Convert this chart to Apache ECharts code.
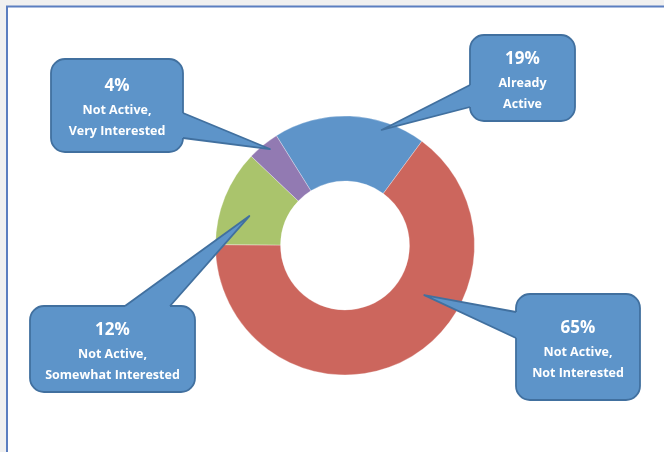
<!DOCTYPE html>
<html>
<head>
<meta charset="utf-8">
<script src="https://cdn.jsdelivr.net/npm/echarts@6/dist/echarts.min.js"></script>
<style>
  html, body { margin: 0; padding: 0; background: #f0f0f0; }
  #chart { width: 664px; height: 452px; }
</style>
</head>
<body>
<div id="chart"></div>
<script>
// Survey breakdown (share of respondents, %)
const categories = [
  'Already Active',
  'Not Active, Not Interested',
  'Not Active, Somewhat Interested',
  'Not Active, Very Interested'
];
const values = [19, 65, 12, 4];
const calloutLines = [
  ['Already', 'Active'],
  ['Not Active,', 'Not Interested'],
  ['Not Active,', 'Somewhat Interested'],
  ['Not Active,', 'Very Interested']
];

const sliceColors = ['#5E94C9', '#CC665D', '#AAC46C', '#927AB2'];

// Donut geometry
const CX = 345, CY = 245.5, R_IN = 64.5, R_OUT = 129.5, START = 122;

// Callout boxes: box rect, pointer base points on the box edge, and where
// the pointer lands inside its slice (fraction of the slice's sweep, fraction of outer radius)
const callouts = [
  { box: [470, 35, 105, 86], base: [[470, 85], [470, 107]], inward: [4, 0], at: [0.725, 0.936] },
  { box: [516, 294, 124, 106], base: [[516, 312], [516, 338]], inward: [4, 0], at: [0.366, 0.722] },
  { box: [30, 306, 165, 86], base: [[125, 306], [170, 306]], inward: [0, 4], at: [0.387, 0.773] },
  { box: [51, 59, 132, 93], base: [[183, 113], [183, 138]], inward: [-4, 0], at: [0.59, 0.944] }
];

const total = values.reduce((a, b) => a + b, 0);
const FONT = '"Open Sans", "Noto Sans", sans-serif';

const graphics = [
  // chart frame
  {
    type: 'rect', z: 0, silent: true,
    shape: { x: 7, y: 6.5, width: 720, height: 520 },
    style: { fill: '#ffffff', stroke: '#5B7EC0', lineWidth: 2 }
  }
];

let cum = 0;
values.forEach((v, i) => {
  const sliceStart = START - cum / total * 360;
  const span = v / total * 360;
  cum += v;
  const c = callouts[i];
  const ang = (sliceStart - c.at[0] * span) * Math.PI / 180;
  const rr = c.at[1] * R_OUT;
  const tip = [CX + rr * Math.cos(ang), CY - rr * Math.sin(ang)];
  const [bx, by, bw, bh] = c.box;
  const b1 = c.base[0], b2 = c.base[1];
  const in1 = [b1[0] + c.inward[0], b1[1] + c.inward[1]];
  const in2 = [b2[0] + c.inward[0], b2[1] + c.inward[1]];
  const tcx = bx + bw / 2, tcy = by + bh / 2 + 3;

  graphics.push(
    {
      type: 'rect', z: 10, silent: true,
      shape: { x: bx, y: by, width: bw, height: bh, r: 14 },
      style: { fill: '#5D94C9', stroke: '#41709F', lineWidth: 1.8 }
    },
    {
      type: 'polygon', z: 11, silent: true,
      shape: { points: [in1, b1, tip, b2, in2] },
      style: { fill: '#5D94C9', stroke: null }
    },
    {
      type: 'polyline', z: 12, silent: true,
      shape: { points: [b1, tip, b2] },
      style: { stroke: '#41709F', lineWidth: 1.8, fill: null, lineJoin: 'round' }
    },
    {
      type: 'text', z: 13, silent: true,
      style: {
        x: tcx, y: tcy - 22, text: v + '%',
        fill: '#ffffff', font: 'bold 17px ' + FONT,
        textAlign: 'center', textVerticalAlign: 'middle'
      }
    },
    {
      type: 'text', z: 13, silent: true,
      style: {
        x: tcx, y: tcy + 2, text: calloutLines[i][0],
        fill: '#ffffff', font: 'bold 12.5px ' + FONT,
        textAlign: 'center', textVerticalAlign: 'middle'
      }
    },
    {
      type: 'text', z: 13, silent: true,
      style: {
        x: tcx, y: tcy + 23, text: calloutLines[i][1],
        fill: '#ffffff', font: 'bold 12.5px ' + FONT,
        textAlign: 'center', textVerticalAlign: 'middle'
      }
    }
  );
});

const chart = echarts.init(document.getElementById('chart'), null, { renderer: 'canvas' });
chart.setOption({
  backgroundColor: 'transparent',
  animation: false,
  graphic: { elements: graphics },
  series: [{
    type: 'pie',
    z: 5,
    center: [CX, CY],
    radius: [R_IN, R_OUT],
    startAngle: START,
    clockwise: true,
    avoidLabelOverlap: false,
    label: { show: false },
    labelLine: { show: false },
    emphasis: { disabled: true },
    itemStyle: { borderColor: 'rgba(255,255,255,0.6)', borderWidth: 0.5 },
    data: categories.map((name, i) => ({
      name, value: values[i], itemStyle: { color: sliceColors[i] }
    }))
  }]
});
</script>
</body>
</html>
